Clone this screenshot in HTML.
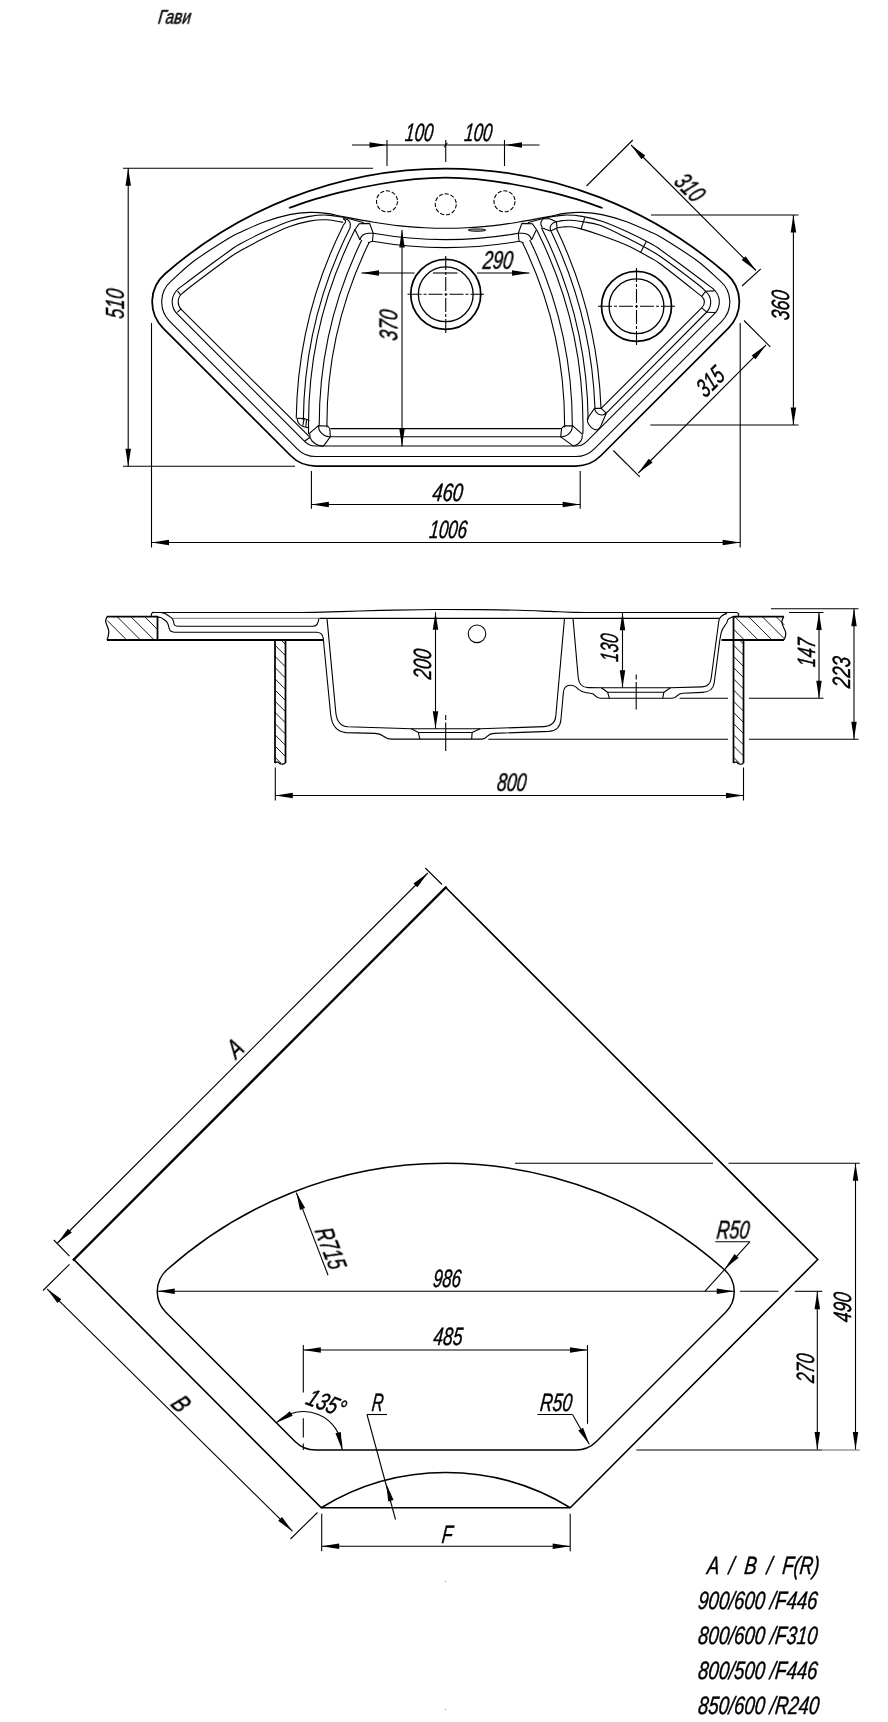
<!DOCTYPE html>
<html><head><meta charset="utf-8"><title>Гави</title>
<style>html,body{margin:0;padding:0;background:#fff}svg{display:block}</style></head>
<body><svg width="888" height="1722" viewBox="0 0 888 1722" fill="none" stroke="#000" stroke-linecap="butt" stroke-linejoin="round" style="font-family:'Liberation Sans',sans-serif;font-style:italic">
<rect x="0" y="0" width="888" height="1722" fill="#fff" stroke="none"/>
<g>
<path d="M164.85,274A427,427 0 0 1 726.65,274A37,37 0 0 1 728.47,328.03L600.75,455.75A35,35 0 0 1 576,466L315.5,466A35,35 0 0 1 290.75,455.75L163.03,328.03A37,37 0 0 1 164.85,274Z" stroke-width="1.75"/>
<path d="M289,208C293.33,206.53 306.17,201.9 315,199.2C323.83,196.5 331.17,194.33 342,191.8C352.83,189.27 367.83,186.1 380,184C392.17,181.9 404.04,180.27 415,179.2C425.96,178.13 435.5,177.6 445.75,177.6C456,177.6 465.54,178.13 476.5,179.2C487.46,180.27 499.33,181.9 511.5,184C523.67,186.1 538.67,189.27 549.5,191.8C560.33,194.33 567.67,196.5 576.5,199.2C585.33,201.9 598.17,206.53 602.5,208" stroke-width="1.75"/>
<path d="M171.1,281.16C175.09,277.68 185.18,267.58 195,260.3C204.82,253.02 222.5,242.13 230,237.5C237.5,232.87 234.2,235.13 240,232.5C245.8,229.87 256.53,224.68 264.8,221.7C273.07,218.72 282.17,216.15 289.6,214.6C297.03,213.05 303.22,212.6 309.4,212.4C315.58,212.2 321.1,212.7 326.7,213.4C332.3,214.1 335.37,215.17 343,216.6C350.63,218.03 363,220.45 372.5,222C382,223.55 391.25,224.93 400,225.9C408.75,226.87 417.38,227.4 425,227.8C432.62,228.2 438.83,228.3 445.75,228.3C452.67,228.3 458.88,228.2 466.5,227.8C474.12,227.4 482.75,226.87 491.5,225.9C500.25,224.93 509.5,223.55 519,222C528.5,220.45 540.87,218.03 548.5,216.6C556.13,215.17 559.2,214.1 564.8,213.4C570.4,212.7 575.92,212.2 582.1,212.4C588.28,212.6 594.47,213.05 601.9,214.6C609.33,216.15 618.43,218.72 626.7,221.7C634.97,224.68 645.7,229.87 651.5,232.5C657.3,235.13 654,232.87 661.5,237.5C669,242.13 686.68,253.02 696.5,260.3C706.32,267.58 716.41,277.68 720.4,281.16A27.5,27.5 0 0 1 721.75,321.31L594.03,449.03A25.5,25.5 0 0 1 576,456.5L315.5,456.5A25.5,25.5 0 0 1 297.47,449.03L169.75,321.31A27.5,27.5 0 0 1 171.1,281.16" stroke-width="1.1"/>
<path d="M363.7,222.6C360.23,221.72 349.07,218.55 342.9,217.3C336.73,216.05 332.28,215.25 326.7,215.1C321.12,214.95 315.58,215.37 309.4,216.4C303.22,217.43 297.03,218.77 289.6,221.3C282.17,223.83 273.07,227.82 264.8,231.6C256.53,235.38 245.8,240.85 240,244C234.2,247.15 237.5,245.13 230,250.5C222.5,255.87 203.66,269.77 195,276.2C186.34,282.63 180.84,286.92 178.01,289.06A17,17 0 0 0 177.17,313.89L304.89,441.61A15,15 0 0 0 315.5,446L576,446" stroke-width="1.1"/>
<path d="M527.8,222.6C531.27,221.72 542.43,218.55 548.6,217.3C554.77,216.05 559.22,215.25 564.8,215.1C570.38,214.95 575.92,215.37 582.1,216.4C588.28,217.43 594.47,218.77 601.9,221.3C609.33,223.83 618.43,227.82 626.7,231.6C634.97,235.38 645.7,240.85 651.5,244C657.3,247.15 654,245.13 661.5,250.5C669,255.87 687.84,269.77 696.5,276.2C705.16,282.63 710.66,286.92 713.49,289.06A17,17 0 0 1 714.33,313.89L586.61,441.61A15,15 0 0 1 576,446" stroke-width="1.1"/>
<path d="M343.2,222.3C340.45,221.88 332.33,220 326.7,219.8C321.07,219.6 315.58,219.97 309.4,221.1C303.22,222.23 297.03,223.82 289.6,226.6C282.17,229.38 272.65,233.97 264.8,237.8C256.95,241.63 248.3,246.35 242.5,249.6C236.7,252.85 237.92,251.68 230,257.3C222.08,262.92 203.01,277.25 195,283.3C186.99,289.35 184.13,291.87 181.96,293.58A11,11 0 0 0 181.42,309.65L309.4,436.7" stroke-width="1.1"/>
<path d="M177.6,291.2L180.6,294.8" stroke-width="1.1"/>
<path d="M177.3,312.4L181.2,308.6" stroke-width="1.1"/>
<path d="M556.4,221.8C557.5,221.6 560.6,220.85 563,220.6C565.4,220.35 567.47,220.1 570.8,220.3C574.13,220.5 578.13,220.97 583,221.8C587.87,222.63 592.72,222.63 600,225.3C607.28,227.97 618.53,233.75 626.7,237.8C634.87,241.85 643.2,246.35 649,249.6C654.8,252.85 653.58,251.68 661.5,257.3C669.42,262.92 689.15,277.63 696.5,283.3C703.85,288.97 704.08,289.97 705.6,291.3A14.2,14.2 0 0 1 706.8,312L606.3,413.2" stroke-width="1.1"/>
<path d="M557.1,227.9C558.08,227.75 560.72,227.18 563,227C565.28,226.82 567.8,226.48 570.8,226.8C573.8,227.12 576.13,227.53 581,228.9C585.87,230.27 592.38,232.28 600,235C607.62,237.72 618.53,241.53 626.7,245.2C634.87,248.87 643.2,253.73 649,257C654.8,260.27 652.72,258.23 661.5,264.8C670.28,271.37 695,291.13 701.7,296.4A7.4,7.4 0 0 1 701.7,307.8L601.2,408.4" stroke-width="1.1"/>
<path d="M705.6,291.3L714.3,290.9" stroke-width="1.1"/>
<path d="M706.8,312.2L715,312.5" stroke-width="1.1"/>
<path d="M701.7,296.4L705.6,291.3" stroke-width="1.1"/>
<path d="M701.7,307.8L706.8,312.2" stroke-width="1.1"/>
<path d="M584.8,217.6L580.9,229.4" stroke-width="1.1"/>
<path d="M646.4,241.2L640.4,252.8" stroke-width="1.1"/>
<path d="M354.98,229.6A434,434 0 0 0 308.59,434" stroke-width="1.1"/>
<path d="M361.77,240A423.3,423.3 0 0 0 319.2,426" stroke-width="1.1"/>
<path d="M368.97,242.8A415.6,415.6 0 0 0 326.91,427.5" stroke-width="1.1"/>
<path d="M536.52,229.6A434,434 0 0 1 582.91,434" stroke-width="1.1"/>
<path d="M529.73,240A423.3,423.3 0 0 1 572.3,426" stroke-width="1.1"/>
<path d="M522.53,242.8A415.6,415.6 0 0 1 564.59,427.5" stroke-width="1.1"/>
<path d="M343.37,225.3A446.3,446.3 0 0 0 296.25,418.2" stroke-width="1.1"/>
<path d="M349.86,228.2A439.2,439.2 0 0 0 303.32,420.5" stroke-width="1.1"/>
<path d="M541.54,228A439.2,439.2 0 0 1 588.16,419.4" stroke-width="1.1"/>
<path d="M551.03,231.2A446.3,446.3 0 0 1 594.99,408.4" stroke-width="1.1"/>
<path d="M556.43,228.6A452.3,452.3 0 0 1 600.99,408.3" stroke-width="1.1"/>
<path d="M373.2,233.3A420.89,420.89 0 0 0 518.3,233.3" stroke-width="1.1"/>
<path d="M372.5,241.3A428.99,428.99 0 0 0 519,241.3" stroke-width="1.1"/>
<path d="M330.6,428.6L560.9,428.6" stroke-width="1.1"/>
<path d="M330.5,436.8L561,436.8" stroke-width="1.1"/>
<path d="M355,229.5L359.3,223.7L369.6,223.4L373.2,233.2L372.5,241.2L368,242.7" stroke-width="1.1"/>
<path d="M360,239.9L355,229.5" stroke-width="1.1"/>
<path d="M360,239.9C360.23,239.35 360.7,237.53 361.4,236.6C362.1,235.67 363.02,234.85 364.2,234.3C365.38,233.75 367,233.48 368.5,233.3C370,233.12 372.42,233.22 373.2,233.2" stroke-width="1.1"/>
<path d="M536.5,229.5L532.2,223.7L521.9,223.4L518.3,233.2L519,241.2L523.5,242.7" stroke-width="1.1"/>
<path d="M531.5,239.9L536.5,229.5" stroke-width="1.1"/>
<path d="M531.5,239.9C531.27,239.35 530.8,237.53 530.1,236.6C529.4,235.67 528.48,234.85 527.3,234.3C526.12,233.75 524.5,233.48 523,233.3C521.5,233.12 519.08,233.22 518.3,233.2" stroke-width="1.1"/>
<path d="M310,437.2L309.7,433.1L318.4,425.7L327.6,426L329.8,428.5L330.3,436.8L323.2,446.3" stroke-width="1.1"/>
<path d="M318.4,425.7C318.55,426.42 318.78,428.77 319.3,430C319.82,431.23 320.47,432.08 321.5,433.1C322.53,434.12 324.03,435.48 325.5,436.1C326.97,436.72 329.5,436.68 330.3,436.8" stroke-width="1.1"/>
<path d="M310,437.2C310.3,437.77 311.02,439.58 311.8,440.6C312.58,441.62 313.58,442.52 314.7,443.3C315.82,444.08 317.08,444.8 318.5,445.3C319.92,445.8 322.42,446.13 323.2,446.3" stroke-width="1.1"/>
<path d="M304.6,441.2L310,437.2" stroke-width="1.1"/>
<path d="M582.3,434.2L572.5,425.7L564.2,425.9L561.6,428.4L560.7,436.9L573.5,446.1" stroke-width="1.1"/>
<path d="M572.5,425.7C572.32,426.52 572.12,429.15 571.4,430.6C570.68,432.05 569.33,433.45 568.2,434.4C567.07,435.35 565.85,435.88 564.6,436.3C563.35,436.72 561.35,436.8 560.7,436.9" stroke-width="1.1"/>
<path d="M582.3,434.2C582.2,435.03 582.32,437.65 581.7,439.2C581.08,440.75 579.97,442.35 578.6,443.5C577.23,444.65 574.35,445.67 573.5,446.1" stroke-width="1.1"/>
<path d="M343.2,218.6C343.93,218.8 346.43,219.03 347.6,219.8C348.77,220.57 349.8,221.8 350.2,223.2C350.6,224.6 350.03,227.37 350,228.2" stroke-width="1.1"/>
<path d="M343.2,225.2C343.53,224.8 344.83,223.57 345.2,222.8C345.57,222.03 345.73,221.3 345.4,220.6C345.07,219.9 343.57,218.93 343.2,218.6" stroke-width="1.1"/>
<path d="M297,418.2C297.25,419 297.5,421.6 298.5,423C299.5,424.4 301.2,425.8 303,426.6C304.8,427.4 308.25,427.6 309.3,427.8" stroke-width="1.1"/>
<path d="M297,418.2L304.2,418.6L309.4,420.4" stroke-width="1.1"/>
<path d="M304.2,418.6L302.8,425.6" stroke-width="1.1"/>
<path d="M306.6,419.3L305.8,426.8" stroke-width="1.1"/>
<path d="M543.4,218.7C543.07,219.08 541.82,220.07 541.4,221C540.98,221.93 540.73,223.15 540.9,224.3C541.07,225.45 542.15,227.3 542.4,227.9" stroke-width="1.1"/>
<path d="M542.4,227.9C543.05,228.18 544.95,229.07 546.3,229.6C547.65,230.13 549.8,230.85 550.5,231.1" stroke-width="1.1"/>
<path d="M543.4,218.7L549.5,218.7L556.4,221.8L557.1,227.9L550.5,231.1" stroke-width="1.1"/>
<path d="M550.5,231.1C550.47,230.35 549.95,227.88 550.3,226.6C550.65,225.32 551.58,224.2 552.6,223.4C553.62,222.6 555.77,222.07 556.4,221.8" stroke-width="1.1"/>
<path d="M587.4,418.5L594.5,408.4L601.2,408.4L606.3,413.2L600.5,426.8" stroke-width="1.1"/>
<path d="M587.4,418.5C587.43,419.02 587.33,420.55 587.6,421.6C587.87,422.65 588.37,423.8 589,424.8C589.63,425.8 590.47,426.83 591.4,427.6C592.33,428.37 593.57,429.05 594.6,429.4C595.63,429.75 596.62,430.13 597.6,429.7C598.58,429.27 600.02,427.28 600.5,426.8" stroke-width="1.1"/>
<path d="M594.5,408.4C594.75,408.97 595.18,410.77 596,411.8C596.82,412.83 598.2,414.1 599.4,414.6C600.6,415.1 602.05,415.03 603.2,414.8C604.35,414.57 605.78,413.47 606.3,413.2" stroke-width="1.1"/>
<circle cx="387" cy="201.3" r="10.5" stroke-width="1.1" stroke-dasharray="4.2 1.8"/>
<circle cx="445.75" cy="204.3" r="10.5" stroke-width="1.1" stroke-dasharray="4.2 1.8"/>
<circle cx="504.5" cy="201.3" r="10.5" stroke-width="1.1" stroke-dasharray="4.2 1.8"/>
<ellipse cx="477" cy="230.1" rx="8.8" ry="1.2" stroke-width="0.9" fill="#999"/>
<circle cx="445.75" cy="294.3" r="35" stroke-width="1.75"/>
<circle cx="445.75" cy="294.3" r="27.4" stroke-width="1.3"/>
<circle cx="636.5" cy="306.3" r="35" stroke-width="1.75"/>
<circle cx="636.5" cy="306.3" r="27.4" stroke-width="1.3"/>
<path d="M407.5,294.3L484,294.3" stroke-width="1.1" stroke-dasharray="14 2 3 2"/>
<path d="M445.75,256L445.75,333" stroke-width="1.1" stroke-dasharray="14 2 3 2"/>
<path d="M598,306.3L675,306.3" stroke-width="1.1" stroke-dasharray="14 2 3 2"/>
<path d="M636.5,268L636.5,345" stroke-width="1.1" stroke-dasharray="14 2 3 2"/>
<path d="M352,145L539.5,145" stroke-width="1.1"/>
<path d="M387,140L387,166" stroke-width="1.1"/>
<path d="M445.75,140L445.75,162" stroke-width="1.1"/>
<path d="M504.5,140L504.5,166" stroke-width="1.1"/>
<path d="M444.15,147.2L447.35,142.8" stroke-width="1.1"/>
<path d="M387,145L369.5,147.75L369.5,142.25Z" fill="#000" stroke="none"/>
<path d="M504.5,145L522,142.25L522,147.75Z" fill="#000" stroke="none"/>
<path d="M123,168.2L373,168.2" stroke-width="1.1"/>
<path d="M123,466.2L295,466.2" stroke-width="1.1"/>
<path d="M128.2,168.2L128.2,466.2" stroke-width="1.1"/>
<path d="M128.2,168.2L130.95,185.7L125.45,185.7Z" fill="#000" stroke="none"/>
<path d="M128.2,466.2L125.45,448.7L130.95,448.7Z" fill="#000" stroke="none"/>
<path d="M151.5,323L151.5,547.5" stroke-width="1.1"/>
<path d="M740.2,323L740.2,547.5" stroke-width="1.1"/>
<path d="M151.5,542.5L740.2,542.5" stroke-width="1.1"/>
<path d="M151.5,542.5L169,539.75L169,545.25Z" fill="#000" stroke="none"/>
<path d="M740.2,542.5L722.7,545.25L722.7,539.75Z" fill="#000" stroke="none"/>
<path d="M311.4,471L311.4,508.8" stroke-width="1.1"/>
<path d="M580.2,471L580.2,508.8" stroke-width="1.1"/>
<path d="M311.4,504.5L580.2,504.5" stroke-width="1.1"/>
<path d="M311.4,504.5L328.9,501.75L328.9,507.25Z" fill="#000" stroke="none"/>
<path d="M580.2,504.5L562.7,507.25L562.7,501.75Z" fill="#000" stroke="none"/>
<path d="M402,230L402,446.2" stroke-width="1.1"/>
<path d="M402,230L404.75,247.5L399.25,247.5Z" fill="#000" stroke="none"/>
<path d="M402,446.2L399.25,428.7L404.75,428.7Z" fill="#000" stroke="none"/>
<path d="M361.5,273L414.5,273" stroke-width="1.1"/>
<path d="M433,273L457.5,273" stroke-width="1.1"/>
<path d="M477,273L529.5,273" stroke-width="1.1"/>
<path d="M361.5,273L379,270.25L379,275.75Z" fill="#000" stroke="none"/>
<path d="M529.5,273L512,275.75L512,270.25Z" fill="#000" stroke="none"/>
<path d="M586.5,186L632.8,140" stroke-width="1.1"/>
<path d="M742,286L760.8,268.8" stroke-width="1.1"/>
<path d="M631,145L756,270.5" stroke-width="1.1"/>
<path d="M631,145L645.32,155.43L641.43,159.32Z" fill="#000" stroke="none"/>
<path d="M756,270.5L741.68,260.07L745.57,256.18Z" fill="#000" stroke="none"/>
<path d="M651,215L798.5,215" stroke-width="1.1"/>
<path d="M650.3,425L798.5,425" stroke-width="1.1"/>
<path d="M793.4,215L793.4,425" stroke-width="1.1"/>
<path d="M793.4,215L796.15,232.5L790.65,232.5Z" fill="#000" stroke="none"/>
<path d="M793.4,425L790.65,407.5L796.15,407.5Z" fill="#000" stroke="none"/>
<path d="M613.3,450.5L639.8,476.8" stroke-width="1.1"/>
<path d="M744,320.5L770.3,346.8" stroke-width="1.1"/>
<path d="M638.3,473L766,345" stroke-width="1.1"/>
<path d="M638.3,473L648.73,458.68L652.62,462.57Z" fill="#000" stroke="none"/>
<path d="M766,345L755.57,359.32L751.68,355.43Z" fill="#000" stroke="none"/>
<path d="M107,616.5H157.5V640" stroke-width="1.75"/>
<path d="M107,640H323.5" stroke-width="1.9"/>
<path d="M107,616.5C106.77,617.3 105.5,619.55 105.6,621.3C105.7,623.05 107.07,625.3 107.6,627C108.13,628.7 108.73,629.83 108.8,631.5C108.87,633.17 108.3,635.58 108,637C107.7,638.42 107.17,639.5 107,640" stroke-width="1.2"/>
<path d="M107.2,620.5L126.7,640" stroke-width="0.9"/>
<path d="M116.95,616.5L140.45,640" stroke-width="0.9"/>
<path d="M130.7,616.5L154.2,640" stroke-width="0.9"/>
<path d="M144.45,616.5L157.5,629.55" stroke-width="0.9"/>
<path d="M733.5,640V616.5H783.8" stroke-width="1.75"/>
<path d="M721.5,640H784" stroke-width="1.9"/>
<path d="M783.8,616.5C783.57,617 782.72,618.5 782.4,619.5C782.08,620.5 781.7,621.17 781.9,622.5C782.1,623.83 782.98,625.92 783.6,627.5C784.22,629.08 785.3,630.5 785.6,632C785.9,633.5 785.7,635.17 785.4,636.5C785.1,637.83 784.07,639.42 783.8,640" stroke-width="1.2"/>
<path d="M733.5,629.1L744.4,640" stroke-width="0.9"/>
<path d="M734.65,616.5L758.15,640" stroke-width="0.9"/>
<path d="M748.4,616.5L771.9,640" stroke-width="0.9"/>
<path d="M762.15,616.5L784.2,638.55" stroke-width="0.9"/>
<path d="M775.9,616.5L784.2,624.8" stroke-width="0.9"/>
<path d="M275,640L275,763" stroke-width="1.75"/>
<path d="M285.5,640L285.5,763" stroke-width="1.75"/>
<path d="M275,763C275.42,762.8 276.67,761.7 277.5,761.8C278.33,761.9 279.08,763.2 280,763.6C280.92,764 282.08,764.3 283,764.2C283.92,764.1 285.08,763.2 285.5,763" stroke-width="1.2"/>
<path d="M281,640L285.5,644.5" stroke-width="0.9"/>
<path d="M275,645.2L285.5,655.7" stroke-width="0.9"/>
<path d="M275,656.4L285.5,666.9" stroke-width="0.9"/>
<path d="M275,667.6L285.5,678.1" stroke-width="0.9"/>
<path d="M275,678.8L285.5,689.3" stroke-width="0.9"/>
<path d="M275,690L285.5,700.5" stroke-width="0.9"/>
<path d="M275,701.2L285.5,711.7" stroke-width="0.9"/>
<path d="M275,712.4L285.5,722.9" stroke-width="0.9"/>
<path d="M275,723.6L285.5,734.1" stroke-width="0.9"/>
<path d="M275,734.8L285.5,745.3" stroke-width="0.9"/>
<path d="M275,746L285.5,756.5" stroke-width="0.9"/>
<path d="M275,757.2L280.8,763" stroke-width="0.9"/>
<path d="M733.5,640L733.5,763" stroke-width="1.75"/>
<path d="M743.5,640L743.5,763" stroke-width="1.75"/>
<path d="M733.5,763C733.92,762.8 735.17,761.7 736,761.8C736.83,761.9 737.58,763.2 738.5,763.6C739.42,764 740.67,764.3 741.5,764.2C742.33,764.1 743.17,763.2 743.5,763" stroke-width="1.2"/>
<path d="M739.5,640L743.5,644" stroke-width="0.9"/>
<path d="M733.5,645.2L743.5,655.2" stroke-width="0.9"/>
<path d="M733.5,656.4L743.5,666.4" stroke-width="0.9"/>
<path d="M733.5,667.6L743.5,677.6" stroke-width="0.9"/>
<path d="M733.5,678.8L743.5,688.8" stroke-width="0.9"/>
<path d="M733.5,690L743.5,700" stroke-width="0.9"/>
<path d="M733.5,701.2L743.5,711.2" stroke-width="0.9"/>
<path d="M733.5,712.4L743.5,722.4" stroke-width="0.9"/>
<path d="M733.5,723.6L743.5,733.6" stroke-width="0.9"/>
<path d="M733.5,734.8L743.5,744.8" stroke-width="0.9"/>
<path d="M733.5,746L743.5,756" stroke-width="0.9"/>
<path d="M733.5,757.2L739.3,763" stroke-width="0.9"/>
<path d="M151.3,616.5C151.35,616.02 151.22,614.27 151.6,613.6C151.98,612.93 152.2,612.68 153.6,612.5C155,612.32 147.27,612.5 160,612.5C172.73,612.5 206.67,612.5 230,612.5C253.33,612.5 281.67,612.65 300,612.5C318.33,612.35 326.67,611.95 340,611.6C353.33,611.25 366.67,610.72 380,610.4C393.33,610.08 409.17,609.85 420,609.7C430.83,609.55 435,609.52 445,609.5C455,609.48 467.5,609.47 480,609.6C492.5,609.73 508.33,610 520,610.3C531.67,610.6 540.83,611.05 550,611.4C559.17,611.75 566.67,612.22 575,612.4C583.33,612.58 582.5,612.48 600,612.5C617.5,612.52 658.33,612.5 680,612.5C701.67,612.5 720.6,612.5 730,612.5C739.4,612.5 735,612.32 736.4,612.5C737.8,612.68 738.07,613.08 738.4,613.6C738.73,614.12 738.63,615.12 738.4,615.6C738.17,616.08 737.82,616.35 737,616.5C736.18,616.65 734.08,616.5 733.5,616.5" stroke-width="1.1"/>
<path d="M172.5,618.3L319.4,618.3" stroke-width="0.8" stroke="#555"/>
<path d="M319.4,618.4L719,618.4" stroke-width="1.1"/>
<path d="M161.2,612.5C161.83,612.68 163.78,613.05 165,613.6C166.22,614.15 167.37,615.03 168.5,615.8C169.63,616.57 170.98,617.33 171.8,618.2C172.62,619.07 173.03,620.07 173.4,621C173.77,621.93 173.7,623.03 174,623.8C174.3,624.57 174.53,625.18 175.2,625.6C175.87,626.02 177.53,626.18 178,626.3" stroke-width="1.1"/>
<path d="M178,626.3H313Q318,626.3 318.8,618.6" stroke-width="1.1"/>
<path d="M157.5,617C158,617.1 159.5,617.23 160.5,617.6C161.5,617.97 162.48,618.53 163.5,619.2C164.52,619.87 165.8,620.63 166.6,621.6C167.4,622.57 167.87,623.85 168.3,625C168.73,626.15 168.82,627.5 169.2,628.5C169.58,629.5 169.8,630.38 170.6,631C171.4,631.62 173.43,632 174,632.2" stroke-width="1.1"/>
<path d="M174,632.2H316.5Q322.2,632.2 323.2,638L330.6,714Q332.4,731.5 346,732.6L375,733.4Q380,733.6 383.5,736.2Q387.2,739.1 391,739.1H482Q485,739.1 487.4,736.2Q490,733.5 494,733.4L549,731.4Q560.2,730.6 561,719L563.4,692.5Q564,685 570.5,685.2Q575,685.4 578.5,689.4Q582,692.4 586.5,692.8L590.5,693.2Q593.5,693.4 595.4,695.8Q597.4,698.3 600.5,698.3H672Q675,698.3 677,695.8Q679,693.4 683,693.2L702.5,692.4Q713,692 714.2,683L719.8,640L721.2,632.6Q722.4,628.6 724.8,625.6Q727.4,622.6 727.6,620.2L728.9,618.6L733.5,616.5" stroke-width="1.1"/>
<path d="M327,618.4L335.8,712.5Q337.2,726.2 348,726.8L411.3,728.8H480.2L544,726.6Q555,726.2 555.8,716L564.5,618.4" stroke-width="1.1"/>
<path d="M411.3,728.8L418.4,732.5H472.1L480.2,728.8" stroke-width="1.1"/>
<path d="M418.4,732.5L419.8,739.1M472.1,732.5L471.7,739.1" stroke-width="1.1"/>
<path d="M573,618.4L578.2,677.5Q579.2,687.4 588,687.6L601.3,687.7H670.6L702,686.9Q710.2,686.6 711.2,678L718.8,621Q719.6,615.6 727,613.4" stroke-width="1.1"/>
<path d="M601.3,687.7L607.6,692.2H663.9L670.6,687.7" stroke-width="1.1"/>
<path d="M607.6,692.2L609.4,698.3M663.9,692.2L662.7,698.3" stroke-width="1.1"/>
<circle cx="477" cy="633.8" r="8.8" stroke-width="1.1"/>
<path d="M445.7,715L445.7,751" stroke-width="1.1" stroke-dasharray="5 2.5 40"/>
<path d="M636.2,674.6L636.2,709.6" stroke-width="1.1" stroke-dasharray="5 2.5 40"/>
<path d="M435.5,612.3L435.5,728.8" stroke-width="1.1"/>
<path d="M435.5,612.3L438.25,629.8L432.75,629.8Z" fill="#000" stroke="none"/>
<path d="M435.5,728.8L432.75,711.3L438.25,711.3Z" fill="#000" stroke="none"/>
<path d="M622.5,612.8L622.5,687.7" stroke-width="1.1"/>
<path d="M622.5,612.8L625.25,630.3L619.75,630.3Z" fill="#000" stroke="none"/>
<path d="M622.5,687.7L619.75,670.2L625.25,670.2Z" fill="#000" stroke="none"/>
<path d="M275.3,767.5L275.3,800.5" stroke-width="1.1"/>
<path d="M743.5,767.5L743.5,800.5" stroke-width="1.1"/>
<path d="M275.3,795.5L743.5,795.5" stroke-width="1.1"/>
<path d="M275.3,795.5L292.8,792.75L292.8,798.25Z" fill="#000" stroke="none"/>
<path d="M743.5,795.5L726,798.25L726,792.75Z" fill="#000" stroke="none"/>
<path d="M789,612.5L823.5,612.5" stroke-width="1.1"/>
<path d="M679.6,698.3L728,698.3" stroke-width="1.1"/>
<path d="M749,698.3L823.5,698.3" stroke-width="1.1"/>
<path d="M819,612.5L819,698.3" stroke-width="1.1"/>
<path d="M819,612.5L821.75,630L816.25,630Z" fill="#000" stroke="none"/>
<path d="M819,698.3L816.25,680.8L821.75,680.8Z" fill="#000" stroke="none"/>
<path d="M771,608.8L858.5,608.8" stroke-width="1.1"/>
<path d="M488.4,739.2L728,739.2" stroke-width="1.1"/>
<path d="M749,739.2L858.5,739.2" stroke-width="1.1"/>
<path d="M854,608.8L854,739.2" stroke-width="1.1"/>
<path d="M854,608.8L856.75,626.3L851.25,626.3Z" fill="#000" stroke="none"/>
<path d="M854,739.2L851.25,721.7L856.75,721.7Z" fill="#000" stroke="none"/>
<path d="M321.25,1507.7L73.75,1259.5" stroke-width="1.6" stroke-linecap="square"/>
<path d="M445.75,887.5L817.75,1259.5L570.25,1507.7" stroke-width="1.6" stroke-linejoin="miter"/>
<path d="M73.75,1259.5L445.75,887.5" stroke-width="2.3" stroke-linecap="square"/>
<path d="M321.25,1507.7L570.25,1507.7" stroke-width="1.6"/>
<path d="M321.25,1507.7A237.77,237.77 0 0 1 570.25,1507.7" stroke-width="1.6"/>
<path d="M167,1269.82A418,418 0 0 1 724.5,1269.82A29.2,29.2 0 0 1 725.68,1312.22L596.45,1441.45A29.2,29.2 0 0 1 575.8,1450L315.7,1450A29.2,29.2 0 0 1 295.05,1441.45L165.82,1312.22A29.2,29.2 0 0 1 167,1269.82Z" stroke-width="1.45"/>
<rect x="445.2" y="1581" width="0.8" height="0.8" fill="#444" stroke="none"/>
<rect x="445.2" y="1709.2" width="0.8" height="0.8" fill="#444" stroke="none"/>
<path d="M53.8,1240L69.5,1256.2" stroke-width="1.1"/>
<path d="M425.3,868L442,884.5" stroke-width="1.1"/>
<path d="M57.5,1243L427.8,873" stroke-width="1.1"/>
<path d="M57.5,1243L67.93,1228.68L71.82,1232.57Z" fill="#000" stroke="none"/>
<path d="M427.8,873L417.37,887.32L413.48,883.43Z" fill="#000" stroke="none"/>
<path d="M69.5,1264.3L43,1290.5" stroke-width="1.1"/>
<path d="M317.5,1512.5L290.5,1539" stroke-width="1.1"/>
<path d="M47,1288.8L292.5,1531.3" stroke-width="1.1"/>
<path d="M47,1288.8L61.32,1299.23L57.43,1303.12Z" fill="#000" stroke="none"/>
<path d="M292.5,1531.3L278.18,1520.87L282.07,1516.98Z" fill="#000" stroke="none"/>
<path d="M321.7,1513.8L321.7,1551.3" stroke-width="1.1"/>
<path d="M570.2,1513.8L570.2,1551.3" stroke-width="1.1"/>
<path d="M321.7,1546.3L570.2,1546.3" stroke-width="1.1"/>
<path d="M321.7,1546.3L339.2,1543.55L339.2,1549.05Z" fill="#000" stroke="none"/>
<path d="M570.2,1546.3L552.7,1549.05L552.7,1543.55Z" fill="#000" stroke="none"/>
<path d="M157.27,1291.3L734.23,1291.3" stroke-width="1.1"/>
<path d="M157.27,1291.3L174.77,1288.55L174.77,1294.05Z" fill="#000" stroke="none"/>
<path d="M734.23,1291.3L716.73,1294.05L716.73,1288.55Z" fill="#000" stroke="none"/>
<path d="M739.8,1291.3L778.5,1291.3" stroke-width="1.1"/>
<path d="M794.8,1291.3L822.3,1291.3" stroke-width="1.1"/>
<path d="M303.3,1345L303.3,1392.5" stroke-width="1.1"/>
<path d="M303.3,1418.3L303.3,1437.5" stroke-width="1.1"/>
<path d="M303.3,1443.5L303.3,1450" stroke-width="1.1"/>
<path d="M587.5,1345L587.5,1423.8" stroke-width="1.1"/>
<path d="M303.3,1350L587.5,1350" stroke-width="1.1"/>
<path d="M303.3,1350L320.8,1347.25L320.8,1352.75Z" fill="#000" stroke="none"/>
<path d="M587.5,1350L570,1352.75L570,1347.25Z" fill="#000" stroke="none"/>
<path d="M515,1163.3L713,1163.3" stroke-width="1.1"/>
<path d="M728.5,1163.3L859.8,1163.3" stroke-width="1.1"/>
<path d="M636.3,1450L822,1450" stroke-width="1.2"/>
<path d="M822,1450L859.8,1450" stroke-width="0.6"/>
<path d="M855.5,1163.3L855.5,1449.6" stroke-width="1.1"/>
<path d="M855.5,1163.3L858.25,1180.8L852.75,1180.8Z" fill="#000" stroke="none"/>
<path d="M855.5,1449.6L852.75,1432.1L858.25,1432.1Z" fill="#000" stroke="none"/>
<path d="M817.3,1291.8L817.3,1449.6" stroke-width="1.1"/>
<path d="M817.3,1291.8L820.05,1309.3L814.55,1309.3Z" fill="#000" stroke="none"/>
<path d="M817.3,1449.6L814.55,1432.1L820.05,1432.1Z" fill="#000" stroke="none"/>
<path d="M296.3,1192.6L328.06,1275.2" stroke-width="1.1"/>
<path d="M296.3,1192.6L305.15,1207.95L300.01,1209.92Z" fill="#000" stroke="none"/>
<path d="M715.3,1241.8L749.8,1241.8" stroke-width="1.1"/>
<path d="M749.8,1241.8L704.8,1291.3" stroke-width="1.1"/>
<path d="M724.8,1268.8L734.54,1254L738.61,1257.7Z" fill="#000" stroke="none"/>
<path d="M537.5,1414.5L572.5,1414.5" stroke-width="1.1"/>
<path d="M572.5,1414.5L589.3,1444.3" stroke-width="1.1"/>
<path d="M589.3,1444.3L578.31,1430.41L583.1,1427.71Z" fill="#000" stroke="none"/>
<path d="M367,1414.5L387,1414.5" stroke-width="1.1"/>
<path d="M367,1414.5L395.5,1519.5" stroke-width="1.1"/>
<path d="M386.3,1483.8L393.54,1499.97L388.23,1501.41Z" fill="#000" stroke="none"/>
<path d="M342.1,1450A38.5,38.5 0 0 0 276.38,1422.78" stroke-width="1.1"/>
<path d="M342.1,1449.7L335.48,1433.27L340.84,1432.03Z" fill="#000" stroke="none"/>
<path d="M276.38,1422.78L289.76,1411.17L292.67,1415.83Z" fill="#000" stroke="none"/>
</g>
<g fill="#000" stroke="none" style="will-change:transform">
<text xml:space="preserve" transform="translate(404.6,140.6) skewX(-6) translate(0,0) scale(0.668,1)" font-size="25" stroke="#000" stroke-width="0.45" stroke-linejoin="round">100</text>
<text xml:space="preserve" transform="translate(463.8,140.6) skewX(-6) translate(0,0) scale(0.668,1)" font-size="25" stroke="#000" stroke-width="0.45" stroke-linejoin="round">100</text>
<text xml:space="preserve" transform="translate(124,303.5) rotate(-90) skewX(-6) translate(-15.78,0) scale(0.711,1)" font-size="25" stroke="#000" stroke-width="0.45" stroke-linejoin="round">510</text>
<text xml:space="preserve" transform="translate(428.8,538.4) skewX(-6) translate(0,0) scale(0.677,1)" font-size="25" stroke="#000" stroke-width="0.45" stroke-linejoin="round">1006</text>
<text xml:space="preserve" transform="translate(431.8,500.7) skewX(-6) translate(0,0) scale(0.731,1)" font-size="25" stroke="#000" stroke-width="0.45" stroke-linejoin="round">460</text>
<text xml:space="preserve" transform="translate(397.5,325) rotate(-90) skewX(-6) translate(-16.28,0) scale(0.735,1)" font-size="25" stroke="#000" stroke-width="0.45" stroke-linejoin="round">370</text>
<text xml:space="preserve" transform="translate(482,269) skewX(-6) translate(0.14,0) scale(0.720,1)" font-size="25" stroke="#000" stroke-width="0.45" stroke-linejoin="round">290</text>
<text xml:space="preserve" transform="translate(683.64,193.86) rotate(45) skewX(-6) translate(-15.78,0) scale(0.711,1)" font-size="25" stroke="#000" stroke-width="0.45" stroke-linejoin="round">310</text>
<text xml:space="preserve" transform="translate(788.5,305) rotate(-90) skewX(-6) translate(-15.78,0) scale(0.711,1)" font-size="25" stroke="#000" stroke-width="0.45" stroke-linejoin="round">360</text>
<text xml:space="preserve" transform="translate(716.36,387.36) rotate(-45) skewX(-6) translate(-15.78,0) scale(0.709,1)" font-size="25" stroke="#000" stroke-width="0.45" stroke-linejoin="round">315</text>
<text xml:space="preserve" transform="translate(156.9,23.4) skewX(-15) translate(0,0) scale(0.765,1)" font-size="20.06" stroke="#000" stroke-width="0.45" stroke-linejoin="round" font-style="normal">Гави</text>
<text xml:space="preserve" transform="translate(431.2,663.8) rotate(-90) skewX(-6) translate(-15.89,0) scale(0.720,1)" font-size="25" stroke="#000" stroke-width="0.45" stroke-linejoin="round">200</text>
<text xml:space="preserve" transform="translate(617.5,647.5) rotate(-90) skewX(-6) translate(-14.77,0) scale(0.663,1)" font-size="25" stroke="#000" stroke-width="0.45" stroke-linejoin="round">130</text>
<text xml:space="preserve" transform="translate(496.3,791.3) skewX(-6) translate(0,0) scale(0.707,1)" font-size="25" stroke="#000" stroke-width="0.45" stroke-linejoin="round">800</text>
<text xml:space="preserve" transform="translate(815.3,652) rotate(-90) skewX(-6) translate(-15.43,0) scale(0.681,1)" font-size="25" stroke="#000" stroke-width="0.45" stroke-linejoin="round">147</text>
<text xml:space="preserve" transform="translate(850.3,672) rotate(-90) skewX(-6) translate(-16.53,0) scale(0.751,1)" font-size="25" stroke="#000" stroke-width="0.45" stroke-linejoin="round">223</text>
<text xml:space="preserve" transform="translate(241.16,1054.86) rotate(-45) skewX(-6) translate(-6.97,0) scale(0.780,1)" font-size="25" stroke="#000" stroke-width="0.45" stroke-linejoin="round">A</text>
<text xml:space="preserve" transform="translate(174.84,1410.16) rotate(45) skewX(-6) translate(-7.45,0) scale(0.780,1)" font-size="25" stroke="#000" stroke-width="0.45" stroke-linejoin="round">B</text>
<text xml:space="preserve" transform="translate(441.3,1542.5) skewX(-6) translate(0,0) scale(0.694,1)" font-size="25" stroke="#000" stroke-width="0.45" stroke-linejoin="round">F</text>
<text xml:space="preserve" transform="translate(432.4,1287) skewX(-6) translate(0,0) scale(0.674,1)" font-size="25" stroke="#000" stroke-width="0.45" stroke-linejoin="round">986</text>
<text xml:space="preserve" transform="translate(432.8,1345) skewX(-6) translate(0,0) scale(0.697,1)" font-size="25" stroke="#000" stroke-width="0.45" stroke-linejoin="round">485</text>
<text xml:space="preserve" transform="translate(851.3,1307) rotate(-90) skewX(-6) translate(-15.67,0) scale(0.707,1)" font-size="25" stroke="#000" stroke-width="0.45" stroke-linejoin="round">490</text>
<text xml:space="preserve" transform="translate(813.8,1368) rotate(-90) skewX(-6) translate(-15.3,0) scale(0.692,1)" font-size="25" stroke="#000" stroke-width="0.45" stroke-linejoin="round">270</text>
<text xml:space="preserve" transform="translate(322.3,1251.63) rotate(68.97) skewX(-6) translate(-22.52,0) scale(0.721,1)" font-size="25" stroke="#000" stroke-width="0.45" stroke-linejoin="round">R715</text>
<text xml:space="preserve" transform="translate(716,1238.8) skewX(-6) translate(0,0) scale(0.712,1)" font-size="25" stroke="#000" stroke-width="0.45" stroke-linejoin="round">R50</text>
<text xml:space="preserve" transform="translate(539.5,1411.3) skewX(-6) translate(0,0) scale(0.697,1)" font-size="25" stroke="#000" stroke-width="0.45" stroke-linejoin="round">R50</text>
<text xml:space="preserve" transform="translate(371.3,1411.3) skewX(-6) translate(0,0) scale(0.634,1)" font-size="25" stroke="#000" stroke-width="0.45" stroke-linejoin="round">R</text>
<text xml:space="preserve" transform="translate(323.47,1410.9) rotate(21) skewX(-6) translate(-20.27,0) scale(0.748,1)" font-size="25" stroke="#000" stroke-width="0.45" stroke-linejoin="round">135°</text>
<text xml:space="preserve" transform="translate(705.5,1573.8) skewX(-6) translate(0.92,0) scale(0.739,1)" font-size="25" stroke="#000" stroke-width="0.45" stroke-linejoin="round">A  /  B  /  F(R)</text>
<text xml:space="preserve" transform="translate(697.6,1608.8) skewX(-6) translate(0,0) scale(0.739,1)" font-size="25" stroke="#000" stroke-width="0.45" stroke-linejoin="round">900/600 /F446</text>
<text xml:space="preserve" transform="translate(697.6,1643.8) skewX(-6) translate(0,0) scale(0.739,1)" font-size="25" stroke="#000" stroke-width="0.45" stroke-linejoin="round">800/600 /F310</text>
<text xml:space="preserve" transform="translate(697.6,1678.8) skewX(-6) translate(0,0) scale(0.739,1)" font-size="25" stroke="#000" stroke-width="0.45" stroke-linejoin="round">800/500 /F446</text>
<text xml:space="preserve" transform="translate(697.6,1713.8) skewX(-6) translate(0,0) scale(0.738,1)" font-size="25" stroke="#000" stroke-width="0.45" stroke-linejoin="round">850/600 /R240</text>
</g>
</svg></body></html>
